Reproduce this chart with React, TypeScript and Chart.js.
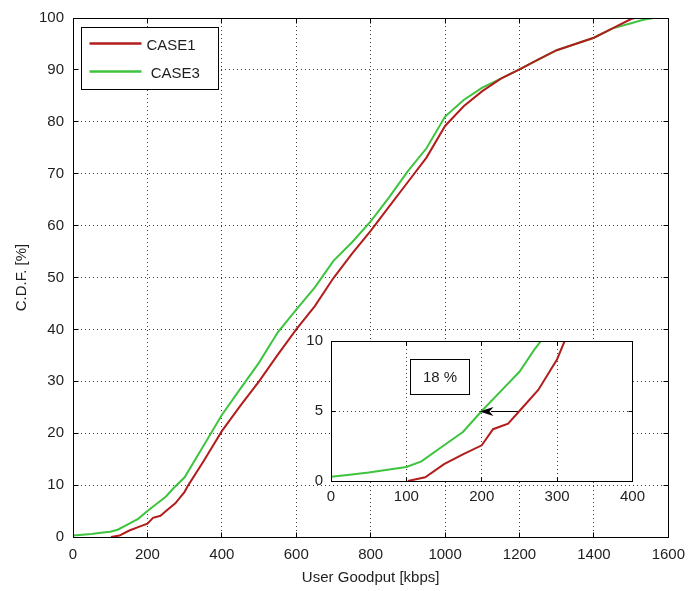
import React, { useEffect, useRef } from 'react';
import { Chart, registerables } from 'chart.js';

Chart.register(...registerables);

// ---- data ----
const seriesLabels = ['CASE1', ' CASE3'];
const case1X = [102, 125, 150, 175, 200, 215, 235, 250, 275, 300, 310, 350, 400, 450, 500, 550, 600, 650, 700, 750, 800, 850, 900, 950, 1000, 1050, 1100, 1150, 1200, 1250, 1300, 1350, 1400, 1450, 1500, 1510];
const case1Y = [0, 0.27, 1.2, 1.9, 2.55, 3.7, 4.1, 5.0, 6.5, 8.7, 10.0, 14.5, 20.4, 25.3, 30, 35.1, 40, 44.5, 49.9, 54.6, 59, 63.7, 68.4, 73.1, 79.2, 83, 85.9, 88.3, 90.1, 92, 93.8, 95, 96.2, 98, 99.8, 100];
const case3X = [0, 25, 50, 75, 100, 120, 150, 175, 200, 225, 250, 270, 300, 350, 400, 450, 500, 550, 600, 650, 700, 750, 800, 850, 900, 950, 1000, 1050, 1100, 1150, 1200, 1250, 1300, 1350, 1400, 1450, 1500, 1530, 1560];
const case3Y = [0.3, 0.45, 0.6, 0.8, 1.0, 1.4, 2.55, 3.5, 5.0, 6.4, 7.8, 9.4, 11.5, 17.5, 23.5, 28.6, 33.6, 39.4, 43.8, 48.1, 53.2, 56.8, 60.8, 65.5, 70.5, 74.9, 81, 84.2, 86.6, 88.3, 90.1, 92, 93.8, 95, 96.2, 98, 99, 99.6, 100];

const mainXRange = [0, 1600];
const mainXStep = 200;
const mainYRange = [0, 100];
const mainYStep = 10;
const insetXRange = [0, 400];
const insetXStep = 100;
const insetYRange = [0, 10];
const insetYStep = 5;

const xTitle = 'User Goodput [kbps]';
const yTitle = 'C.D.F. [%]';
const annotationText = '18 %';
const arrowFromX = 248;
const arrowToX = 197;
const arrowLevel = 5;

// ---- styles ----
const RED = '#b21d1d';
const GREEN = '#3ec43e';
const TEXT = '#1e1e1e';
const FONT_FAMILY = '"Liberation Sans", Arial, Helvetica, sans-serif';
const font15 = { family: FONT_FAMILY, size: 15 };
const plainTick = (v: any) => String(v);

function makeDatasets() {
  return [
    {
      label: seriesLabels[0],
      data: case1X.map((x, i) => ({ x, y: case1Y[i] })),
      borderColor: RED,
      backgroundColor: RED,
      borderWidth: 2,
      pointRadius: 0,
      tension: 0,
      fill: false,
    },
    {
      label: seriesLabels[1],
      data: case3X.map((x, i) => ({ x, y: case3Y[i] })),
      borderColor: GREEN,
      backgroundColor: GREEN,
      borderWidth: 2,
      pointRadius: 0,
      tension: 0,
      fill: false,
    },
  ];
}

const align = (p: number) => Math.round(p - 0.5) + 0.5;

const framePlugin = (tickLen: number) => ({
  id: 'frame',
  afterDraw(chart: any) {
    const { ctx, chartArea: a, scales } = chart;
    const L = align(a.left), R = align(a.right), T = align(a.top), B = align(a.bottom);
    ctx.save();
    ctx.strokeStyle = '#000';
    ctx.lineWidth = 1;
    ctx.setLineDash([]);
    ctx.strokeRect(L, T, R - L, B - T);
    ctx.beginPath();
    scales.x.ticks.forEach((t: any) => {
      const px = align(scales.x.getPixelForValue(t.value));
      ctx.moveTo(px, B); ctx.lineTo(px, B - tickLen);
      ctx.moveTo(px, T); ctx.lineTo(px, T + tickLen);
    });
    scales.y.ticks.forEach((t: any) => {
      const py = align(scales.y.getPixelForValue(t.value));
      ctx.moveTo(L, py); ctx.lineTo(L + tickLen, py);
      ctx.moveTo(R, py); ctx.lineTo(R - tickLen, py);
    });
    ctx.stroke();
    ctx.restore();
  },
});

const whiteAreaPlugin = {
  id: 'whiteArea',
  beforeDraw(chart: any) {
    const { ctx, chartArea: a } = chart;
    ctx.save();
    ctx.fillStyle = '#fff';
    ctx.fillRect(a.left, a.top, a.right - a.left, a.bottom - a.top);
    ctx.restore();
  },
};

const legendPlugin = {
  id: 'insideLegend',
  afterDraw(chart: any) {
    const { ctx, chartArea: a } = chart;
    const bx = align(a.left + 8), by = align(a.top + 9), bw = 137, bh = 62;
    ctx.save();
    ctx.fillStyle = '#fff';
    ctx.fillRect(bx, by, bw, bh);
    ctx.strokeStyle = '#000';
    ctx.lineWidth = 1;
    ctx.strokeRect(bx, by, bw, bh);
    ctx.font = `15px ${FONT_FAMILY}`;
    ctx.textBaseline = 'middle';
    ctx.textAlign = 'left';
    chart.data.datasets.forEach((ds: any, i: number) => {
      const ly = by + 16 + i * 28;
      ctx.strokeStyle = ds.borderColor;
      ctx.lineWidth = 2.5;
      ctx.beginPath();
      ctx.moveTo(bx + 8, ly);
      ctx.lineTo(bx + 60, ly);
      ctx.stroke();
      ctx.fillStyle = TEXT;
      ctx.fillText(ds.label, bx + 65, ly + 2);
    });
    ctx.restore();
  },
};

const annotationPlugin = {
  id: 'annotation',
  afterDraw(chart: any) {
    const { ctx, scales } = chart;
    const x = scales.x, y = scales.y;
    const x0 = align(x.getPixelForValue(106)), x1 = align(x.getPixelForValue(184));
    const y0 = align(y.getPixelForValue(8.7)), y1 = align(y.getPixelForValue(6.2));
    ctx.save();
    ctx.fillStyle = '#fff';
    ctx.fillRect(x0, y0, x1 - x0, y1 - y0);
    ctx.strokeStyle = '#000';
    ctx.lineWidth = 1;
    ctx.strokeRect(x0, y0, x1 - x0, y1 - y0);
    ctx.fillStyle = TEXT;
    ctx.font = `15px ${FONT_FAMILY}`;
    ctx.textAlign = 'center';
    ctx.textBaseline = 'middle';
    ctx.fillText(annotationText, (x0 + x1) / 2, (y0 + y1) / 2 + 1);
    const ay = align(y.getPixelForValue(arrowLevel));
    const ax0 = x.getPixelForValue(arrowFromX);
    const ax1 = x.getPixelForValue(arrowToX);
    const headLen = 14, headHalf = 4.5;
    ctx.beginPath();
    ctx.moveTo(ax0, ay);
    ctx.lineTo(ax1 + headLen - 2, ay);
    ctx.stroke();
    ctx.fillStyle = '#000';
    ctx.beginPath();
    ctx.moveTo(ax1, ay);
    ctx.lineTo(ax1 + headLen, ay - headHalf);
    ctx.lineTo(ax1 + headLen - 4, ay);
    ctx.lineTo(ax1 + headLen, ay + headHalf);
    ctx.closePath();
    ctx.fill();
    ctx.restore();
  },
};

const GRID = { color: '#3a3a3a', drawTicks: false, lineWidth: 1 };
const BORDER = { display: false, dash: [1, 3] };

export default function App() {
  const mainRef = useRef<HTMLCanvasElement>(null);
  const insetRef = useRef<HTMLCanvasElement>(null);

  useEffect(() => {
    document.body.style.margin = '0';
    const main = new Chart(mainRef.current as HTMLCanvasElement, {
      type: 'line',
      data: { datasets: makeDatasets() as any },
      options: {
        animation: false,
        responsive: false,
        events: [],
        layout: { padding: { top: 15, right: 21, left: 0, bottom: 0 } },
        plugins: { legend: { display: false }, tooltip: { enabled: false } },
        scales: {
          x: {
            type: 'linear',
            min: mainXRange[0],
            max: mainXRange[1],
            ticks: { stepSize: mainXStep, font: font15, color: TEXT, padding: 9, maxRotation: 0, autoSkip: false, callback: plainTick },
            grid: GRID,
            border: BORDER,
            title: { display: true, text: xTitle, font: font15, color: TEXT, padding: { top: 0, bottom: 4 } },
            afterFit: (s: any) => { s.height = 54; },
          },
          y: {
            type: 'linear',
            min: mainYRange[0],
            max: mainYRange[1],
            ticks: { stepSize: mainYStep, font: font15, color: TEXT, padding: 9, autoSkip: false, callback: plainTick },
            grid: GRID,
            border: BORDER,
            title: { display: true, text: yTitle, font: font15, color: TEXT, padding: { top: 13, bottom: 0 } },
            afterFit: (s: any) => { s.width = 73; },
          },
        },
      } as any,
      plugins: [framePlugin(5), legendPlugin],
    });

    const inset = new Chart(insetRef.current as HTMLCanvasElement, {
      type: 'line',
      data: { datasets: makeDatasets() as any },
      options: {
        animation: false,
        responsive: false,
        events: [],
        layout: { padding: { top: 10, right: 15, left: 0, bottom: 0 } },
        plugins: { legend: { display: false }, tooltip: { enabled: false } },
        scales: {
          x: {
            type: 'linear',
            min: insetXRange[0],
            max: insetXRange[1],
            ticks: { stepSize: insetXStep, font: font15, color: TEXT, padding: 7, maxRotation: 0, autoSkip: false, callback: plainTick },
            grid: GRID,
            border: BORDER,
            afterFit: (s: any) => { s.height = 27; },
          },
          y: {
            type: 'linear',
            min: insetYRange[0],
            max: insetYRange[1],
            ticks: { stepSize: insetYStep, font: font15, color: TEXT, padding: 8, autoSkip: false, callback: plainTick },
            grid: GRID,
            border: BORDER,
            afterFit: (s: any) => { s.width = 35; },
          },
        },
      } as any,
      plugins: [whiteAreaPlugin, framePlugin(4), annotationPlugin],
    });

    return () => {
      main.destroy();
      inset.destroy();
    };
  }, []);

  return (
    <div style={{ position: 'relative', width: 694, height: 591, background: '#fff', overflow: 'hidden' }}>
      <canvas ref={mainRef} width={694} height={591} style={{ position: 'absolute', left: 0, top: 0, width: 694, height: 591 }} />
      <canvas ref={insetRef} width={356} height={184} style={{ position: 'absolute', left: 296, top: 324, width: 356, height: 184 }} />
    </div>
  );
}
